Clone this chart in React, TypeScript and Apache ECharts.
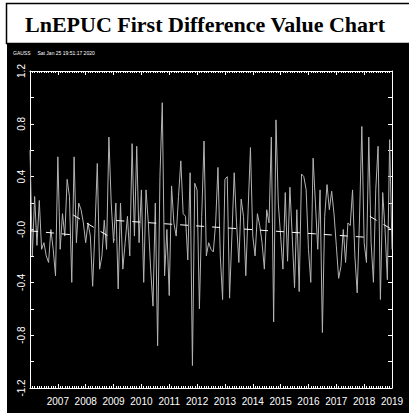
import React, { useEffect, useRef } from "react";
import * as echarts from "echarts";

const TITLE = "LnEPUC First Difference Value Chart";
const STAMP = "GAUSS     Sat Jan 25 19:51:17 2020";
const START_YEAR = 2006;
const END_YEAR = 2019;

// Monthly first differences of LnEPUC, starting Jan 2006
const diffValues: number[] = [
  0.6, -0.2, 0.25, -0.12, 0.22, -0.15, -0.1, -0.2, -0.25, 0.0, -0.15, -0.35,
  0.55, -0.15, 0.12, -0.05, 0.38, 0.25, -0.4, 0.55, -0.1, 0.2, 0.15, 0.05,
  -0.1, 0.05, -0.05, -0.43, 0.0, 0.5, -0.3, -0.2, 0.07, -0.15, 0.7, 0.2,
  -0.1, 0.2, -0.45, 0.2, -0.3, -0.1, 0.1, -0.2, 0.65, -0.05, 0.63, -0.1,
  0.3, -0.4, 0.3, 0.05, -0.3, -0.58, 0.2, -0.88, 0.4, 0.96, -0.35, 0.0,
  -0.5, 0.33, 0.05, -0.05, 0.25, 0.52, 0.12, 0.1, -0.23, 0.43, -1.03, 0.35,
  0.3, -0.6, 0.1, 0.67, -0.2, -0.1, -0.15, -0.17, 0.05, 0.47, -0.2, -0.53,
  0.38, 0.4, -0.52, -0.05, 0.43, 0.05, -0.25, 0.23, 0.1, -0.35, 0.15, 0.62,
  -0.05, -0.2, 0.12, 0.03, -0.1, -0.3, 0.15, 0.05, 0.7, -0.7, 0.83, 0.2,
  -0.05, -0.3, 0.28, -0.24, 0.32, -0.05, -0.44, 0.15, -0.47, 0.42, 0.4, 0.3,
  -0.15, -0.4, 0.54, 0.2, -0.15, 0.3, -0.78, 0.1, 0.34, 0.15, 0.29, 0.12,
  -0.12, -0.37, -0.28, 0.0, -0.25, 0.05, 0.03, 0.3, -0.2, -0.48, 0.08, 0.78,
  -0.1, -0.25, 0.7, -0.1, -0.4, 0.3, 0.63, -0.53, 0.28, 0.0, -0.38, 0.68,
  -0.15,
];

// Fitted (dashed) trend segments: [year, value]
const trendSegA: [number, number][] = [[2006.0, -0.01], [2007.5, -0.04]];
const trendSegB: [number, number][] = [[2007.55, 0.11], [2009.05, -0.08]];
const trendSegC: [number, number][] = [[2009.1, 0.068], [2018.15, -0.06]];
const trendSegD: [number, number][] = [[2018.2, 0.1], [2019.0, 0.0]];

const yMin = -1.2;
const yMax = 1.2;

export default function App() {
  const ref = useRef<HTMLDivElement>(null);
  useEffect(() => {
    if (!ref.current) return;
    const chart = echarts.init(ref.current, undefined, { renderer: "svg" });
    const seriesData = diffValues.map((v, i) => [START_YEAR + i / 12, v]);
    const axisFont = "Liberation Sans, Arial, sans-serif";
    const xCommon = {
      type: "value" as const,
      min: START_YEAR,
      max: END_YEAR,
      interval: 1,
      axisLine: { show: true, onZero: false, lineStyle: { color: "#fff", width: 1 } },
      axisTick: { show: true, inside: true, length: 4, lineStyle: { color: "#fff" } },
      minorTick: { show: true, splitNumber: 12, length: 2, lineStyle: { color: "#fff" } },
      splitLine: { show: false },
      minorSplitLine: { show: false },
    };
    const yCommon = {
      type: "value" as const,
      min: yMin,
      max: yMax,
      interval: 0.2,
      axisLine: { show: true, onZero: false, lineStyle: { color: "#fff", width: 1 } },
      axisTick: { show: true, inside: true, length: 4, lineStyle: { color: "#fff" } },
      splitLine: { show: false },
    };
    const trendStyle = { color: "#fff", width: 1, type: [8, 8] as number[] };
    const mkTrend = (d: [number, number][]) => ({
      type: "line" as const,
      data: d,
      symbol: "none",
      lineStyle: trendStyle,
      silent: true,
      z: 3,
    });
    chart.setOption({
      animation: false,
      backgroundColor: "#fff",
      title: {
        text: TITLE,
        left: 20,
        top: 8,
        textStyle: {
          fontFamily: "Liberation Serif, Times New Roman, serif",
          fontWeight: "bold",
          fontSize: 22,
          color: "#000",
        },
      },
      graphic: [
        {
          type: "rect",
          shape: { x: 6.5, y: 3.5, width: 410, height: 40 },
          style: { fill: "#fff", stroke: "#000", lineWidth: 1.5 },
          z: -10,
        },
        {
          type: "rect",
          shape: { x: 7, y: 43, width: 402, height: 370 },
          style: { fill: "#000" },
          z: -10,
        },
        {
          type: "text",
          x: 13,
          y: 50,
          style: {
            text: STAMP,
            fill: "#fff",
            fontSize: 5,
            fontFamily: axisFont,
          },
          z: 10,
        },
      ],
      grid: { left: 30, top: 71, right: 17, bottom: 25, containLabel: false },
      xAxis: [
        {
          ...xCommon,
          position: "bottom",
          axisLabel: {
            color: "#fff",
            fontSize: 10,
            fontFamily: axisFont,
            margin: 8,
            formatter: (v: number) => (v === START_YEAR ? "" : String(v)),
          },
        },
        {
          ...xCommon,
          position: "top",
          axisLabel: { show: false },
        },
      ],
      yAxis: [
        {
          ...yCommon,
          position: "left",
          axisLabel: {
            color: "#fff",
            fontSize: 10,
            fontFamily: axisFont,
            rotate: 90,
            margin: 4,
            formatter: (v: number) => {
              const r = Math.round(v * 10);
              if (r % 4 !== 0) return "";
              if (r === 0) return "-0.0";
              return (r / 10).toFixed(1);
            },
          },
        },
        {
          ...yCommon,
          position: "right",
          axisLabel: { show: false },
        },
      ],
      series: [
        {
          type: "line",
          data: seriesData,
          symbol: "none",
          lineStyle: { color: "#b4b4b4", width: 1 },
          z: 2,
        },
        mkTrend(trendSegA),
        mkTrend(trendSegB),
        mkTrend(trendSegC),
        mkTrend(trendSegD),
      ],
    });
    return () => chart.dispose();
  }, []);
  return (
    <div
      ref={ref}
      style={{ position: "fixed", left: 0, top: 0, width: 409, height: 413 }}
    />
  );
}
